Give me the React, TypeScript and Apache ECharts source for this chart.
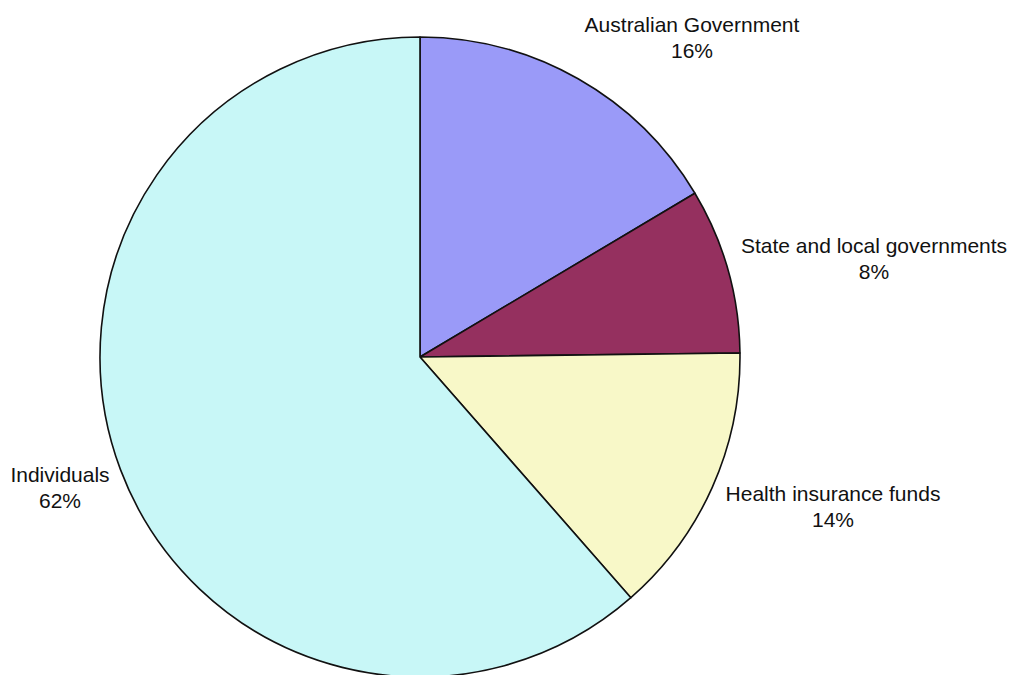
import React, { useEffect, useRef } from "react";
import * as echarts from "echarts";

const categories = [
  "Australian Government",
  "State and local governments",
  "Health insurance funds",
  "Individuals",
];
const values = [16.45, 8.35, 13.75, 61.45];
const colors = ["#9a9af8", "#95305f", "#f8f8c8", "#c8f7f7"];

// label anchor positions (layout, not data)
const labelPos: [number, number][] = [
  [692, 37],
  [874, 258],
  [833, 506],
  [60, 487],
];

export default function App() {
  const ref = useRef<HTMLDivElement>(null);
  useEffect(() => {
    if (!ref.current) return;
    const chart = echarts.init(ref.current, null, { renderer: "svg" });
    chart.setOption({
      animation: false,
      backgroundColor: "#ffffff",
      series: [
        {
          type: "pie",
          center: [420, 357],
          radius: 320,
          startAngle: 90,
          clockwise: true,
          percentPrecision: 0,
          avoidLabelOverlap: false,
          data: categories.map((name, i) => ({
            name,
            value: values[i],
            itemStyle: { color: colors[i] },
          })),
          itemStyle: { borderColor: "#111", borderWidth: 1.6 },
          emphasis: { disabled: true },
          label: {
            show: true,
            position: "outside",
            formatter: "{b}\n{d}%",
            fontFamily: "Liberation Sans, Arial, sans-serif",
            fontSize: 21,
            lineHeight: 26,
            color: "#111",
            align: "center",
          },
          labelLine: { show: false },
          labelLayout: (params: any) => {
            const p = labelPos[params.dataIndex];
            return { x: p[0], y: p[1], align: "center", verticalAlign: "middle" };
          },
        },
      ],
    });
    return () => chart.dispose();
  }, []);
  return (
    <div
      ref={ref}
      style={{ position: "fixed", left: 0, top: 0, width: 1013, height: 675 }}
    />
  );
}
